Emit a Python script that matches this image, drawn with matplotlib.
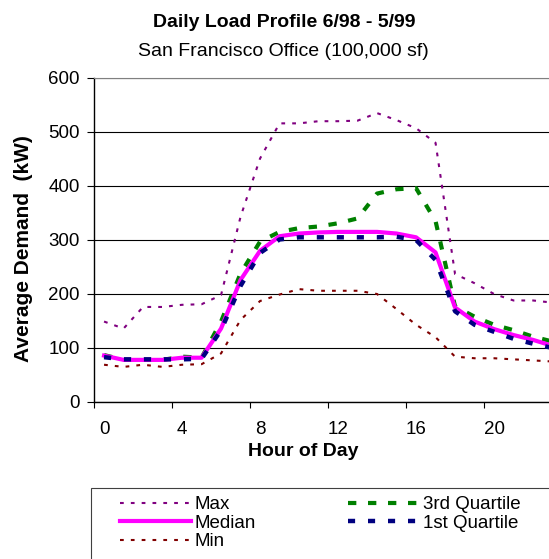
import numpy as np
import matplotlib
matplotlib.use("Agg")
from matplotlib import pyplot as plt
from matplotlib.patches import Rectangle

plt.rcParams['font.family'] = ['Liberation Sans', 'DejaVu Sans']

# hourly demand statistics (kW)
hours = list(range(24))
max_kw = [149, 136, 176, 176, 180, 181, 198, 343, 451, 516, 516, 520, 520, 521, 535, 522, 507, 480, 237, 220, 200, 188, 188, 184]
q3_kw = [87, 78, 78, 78, 84, 82, 149, 238, 297, 315, 322, 325, 331, 340, 386, 394, 396, 335, 177, 158, 143, 133, 121, 112]
median_kw = [86, 78, 78, 78, 82, 82, 136, 226, 280, 307, 312, 314, 315, 315, 315, 312, 305, 277, 175, 149, 135, 124, 115, 104]
q1_kw = [83, 79, 79, 79, 79, 80, 133, 215, 276, 301, 305, 305, 305, 305, 305, 306, 300, 263, 168, 143, 130, 117, 108, 100]
min_kw = [69, 65, 69, 65, 69, 70, 90, 152, 187, 199, 209, 206, 206, 206, 200, 172, 143, 120, 84, 81, 81, 79, 77, 75]

hour_labels = ["0", "4", "8", "12", "16", "20"]
y_ticks = [0, 100, 200, 300, 400, 500, 600]

W, H = 549, 559
fig = plt.figure(figsize=(W / 100, H / 100), dpi=100)
# plot area runs past the right edge, as in the original screenshot
ax = fig.add_axes([94.3 / W, (H - 402) / H, 468 / W, 324 / H])

ax.plot(hours, max_kw, color="#800080", lw=1.5, ls=(0, (1.8, 3.4)), label="Max")
ax.plot(hours, q3_kw, color="#008000", lw=3.0, ls=(0, (2.0, 2.8)), label="3rd Quartile")
ax.plot(hours, median_kw, color="#FF00FF", lw=3.0, ls="-", label="Median")
ax.plot(hours, q1_kw, color="#000080", lw=3.2, ls=(0, (1.6, 2.9)), label="1st Quartile")
ax.plot(hours, min_kw, color="#800000", lw=1.5, ls=(0, (1.8, 3.4)), label="Min")

ax.set_xlim(-0.5, 23.5)
ax.set_ylim(0, 600)
ax.set_yticks(y_ticks)
ax.yaxis.grid(True, color="black", lw=0.8)
ax.set_axisbelow(True)

# category axis: ticks between hours, labels on the hours
ax.set_xticks(np.arange(-0.5, 24, 4))
ax.set_xticklabels([])
ax.set_xticks(np.arange(0, 24, 4), minor=True)
ax.set_xticklabels(hour_labels, minor=True)
ax.tick_params(axis="x", which="major", direction="out", length=4.5, width=0.8)
ax.tick_params(axis="x", which="minor", length=0, pad=14, labelsize=13.5)
ax.tick_params(axis="y", direction="out", length=5, width=0.8, pad=5.5, labelsize=13.5)

ax.spines["top"].set_color("#808080")
ax.spines["right"].set_visible(False)
for s in ("left", "bottom"):
    ax.spines[s].set_linewidth(1.0)

fig.text(284 / W, (H - 26.7) / H, "Daily Load Profile 6/98 - 5/99", ha="center", va="baseline",
         fontsize=14, fontweight="bold")
fig.text(283 / W, (H - 55.5) / H, "San Francisco Office (100,000 sf)", ha="center", va="baseline",
         fontsize=14)
fig.text(303.5 / W, (H - 456) / H, "Hour of Day", ha="center", va="baseline",
         fontsize=14, fontweight="bold")
fig.text(23.5 / W, (H - 249) / H, "Average Demand  (kW)", ha="center", va="center",
         rotation=90, fontsize=15, fontweight="bold")

# legend box (cut off at the right and bottom like the source)
fig.add_artist(Rectangle((91 / W, -0.1), 1.0, 0.1 + (H - 488) / H, transform=fig.transFigure,
                         fill=False, edgecolor="#404040", lw=0.8))
handles, labels = ax.get_legend_handles_labels()
order = [0, 2, 4, 1, 3]
fig.legend([handles[i] for i in order], [labels[i] for i in order], ncol=2,
           loc="upper left", bbox_to_anchor=(120 / W, (H - 496) / H), frameon=False,
           fontsize=13.5, handlelength=3.8, handletextpad=0.2, columnspacing=4.9,
           labelspacing=0.08, borderpad=0, borderaxespad=0)

fig.savefig("out.png", dpi=100)
